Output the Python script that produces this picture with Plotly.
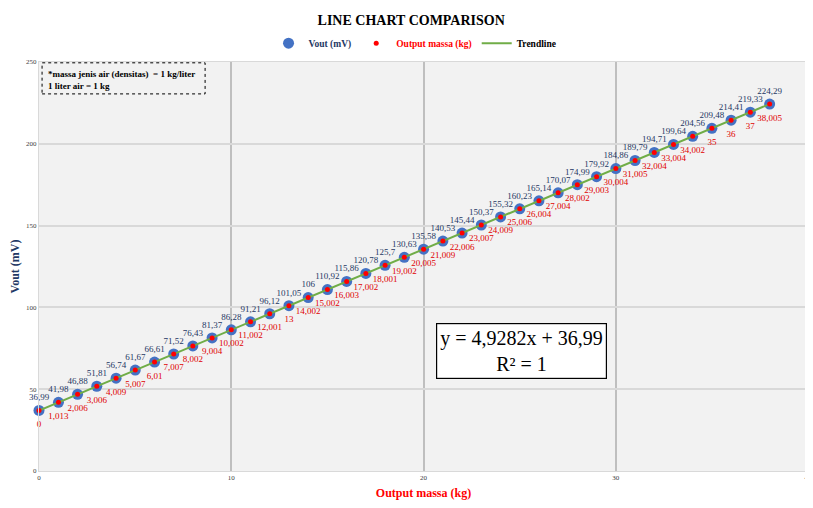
import numpy as np
import plotly.graph_objects as go

massa = [0, 1.013, 2.006, 3.006, 4.009, 5.007, 6.01, 7.007, 8.002, 9.004, 10.002,
         11.002, 12.001, 13, 14.002, 15.002, 16.003, 17.002, 18.001, 19.002, 20.005,
         21.009, 22.006, 23.007, 24.009, 25.006, 26.004, 27.004, 28.002, 29.003, 30.004,
         31.005, 32.004, 33.004, 34.002, 35, 36, 37, 38.005]
vout = [36.99, 41.98, 46.88, 51.81, 56.74, 61.67, 66.61, 71.52, 76.43, 81.37, 86.28,
        91.21, 96.12, 101.05, 106, 110.92, 115.86, 120.78, 125.7, 130.63, 135.58,
        140.53, 145.44, 150.37, 155.32, 160.23, 165.14, 170.07, 174.99, 179.92, 184.86,
        189.79, 194.71, 199.64, 204.56, 209.48, 214.41, 219.33, 224.29]

x_ticks = [0, 10, 20, 30, 40]
y_ticks = [0, 50, 100, 150, 200, 250]


def fmt(v):
    s = ("%.3f" % v).rstrip("0").rstrip(".")
    return s.replace(".", ",")


vout_text = [fmt(v) for v in vout]
massa_text = [fmt(v) for v in massa]

slope, intercept = np.polyfit(massa, vout, 1)
trend_x = [min(massa), max(massa)]
trend_y = [slope * x + intercept for x in trend_x]

SERIF = "Liberation Serif"
NAVY = "#1F3864"
RED = "#E00000"

fig = go.Figure()
fig.add_trace(go.Scatter(
    x=massa, y=vout, mode="markers+text",
    name="<span style='color:#1F3864'><b>Vout (mV)</b></span>",
    marker=dict(size=11, color="#4472C4"),
    text=vout_text, textposition="top center",
    textfont=dict(family=SERIF, size=9, color=NAVY),
    cliponaxis=False, legendrank=1,
))
fig.add_trace(go.Scatter(
    x=trend_x, y=trend_y, mode="lines",
    name="<b>Trendline</b>",
    line=dict(color="#70AD47", width=2),
    legendrank=3,
))
# red value labels (offset below the markers)
fig.add_trace(go.Scatter(
    x=massa, y=vout, mode="markers+text", showlegend=False, hoverinfo="skip",
    marker=dict(size=14, color="rgba(0,0,0,0)"),
    text=massa_text, textposition="bottom center",
    textfont=dict(family=SERIF, size=9, color=RED),
    cliponaxis=False,
))
fig.add_trace(go.Scatter(
    x=massa, y=vout, mode="markers",
    name="<span style='color:#FF0000'><b>Output massa (kg)</b></span>",
    marker=dict(size=5, color="#FF0000"),
    cliponaxis=False, legendrank=2,
))

fig.update_layout(
    width=813, height=508,
    margin=dict(l=31, r=13, t=54, b=45, autoexpand=False),
    paper_bgcolor="white", plot_bgcolor="#F2F2F2",
    font=dict(family=SERIF, color="black"),
    title=dict(text="<b>LINE CHART COMPARISON</b>", x=0.484, xanchor="center",
               xref="paper", y=1 - 12 / 508, yanchor="middle",
               font=dict(family=SERIF, size=14, color="black")),
    legend=dict(orientation="h", x=0.489, xanchor="center", y=1.046, yanchor="middle",
                font=dict(family=SERIF, size=9.5, color="black"),
                bgcolor="rgba(0,0,0,0)", itemwidth=30),
    showlegend=True,
)
fig.update_xaxes(
    range=[0, 40], tickvals=x_ticks, ticktext=[str(v) for v in x_ticks],
    tickfont=dict(family=SERIF, size=7, color="#404040"),
    showgrid=True, gridcolor="#BFBFBF", gridwidth=1.5, zeroline=False,
    showline=True, linecolor="#D9D9D9", mirror=True, automargin=False,
    title=dict(text="<b>Output massa (kg)</b>", font=dict(family=SERIF, size=12, color="#FF0000"),
               standoff=7),
)
fig.update_yaxes(
    range=[0, 250], tickvals=y_ticks, ticktext=[str(v) for v in y_ticks],
    tickfont=dict(family=SERIF, size=7, color="#404040"),
    showgrid=True, gridcolor="#D9D9D9", gridwidth=1.5, zeroline=False,
    showline=True, linecolor="#D9D9D9", mirror=True, automargin=False,
    title=dict(text="<b>Vout (mV)</b>", font=dict(family=SERIF, size=12, color=NAVY),
               standoff=5),
)

# note box with dotted border
fig.add_annotation(
    xref="paper", yref="paper", x=0.008, y=0.99, xanchor="left", yanchor="top",
    text="<b>*massa jenis air (densitas)  = 1 kg/liter<br>1 liter air = 1 kg</b>",
    align="left", showarrow=False, font=dict(family=SERIF, size=9, color="black"),
    bgcolor="rgba(0,0,0,0)", borderpad=2,
)
fig.add_shape(type="rect", xref="paper", yref="paper",
              x0=0.004, x1=0.216, y0=0.922, y1=0.998,
              line=dict(color="black", width=1, dash="dot"), fillcolor="#F2F2F2",
              layer="below")

fig.add_annotation(
    xref="paper", yref="paper", x=0.627, y=0.293, xanchor="center", yanchor="middle",
    text="y = 4,9282x + 36,99<br>R² = 1",
    align="center", showarrow=False, font=dict(family=SERIF, size=20, color="black"),
    bgcolor="white", bordercolor="black", borderwidth=1.2, borderpad=3,
)

fig.write_html("out.html")
